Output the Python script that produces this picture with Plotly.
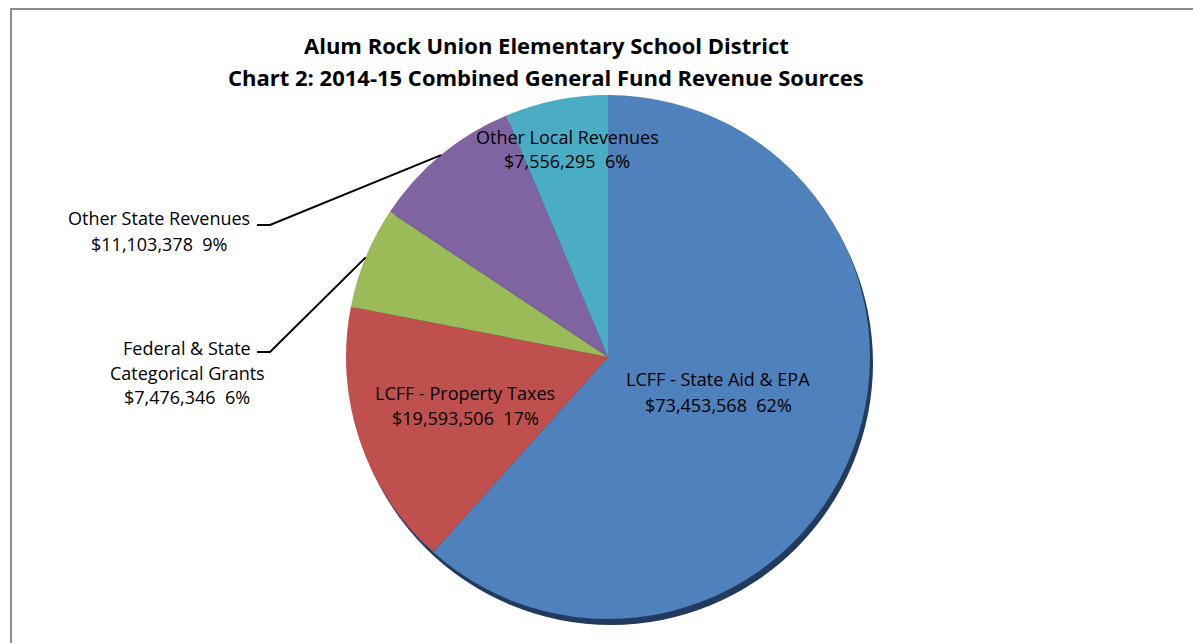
import math
import plotly.graph_objects as go

# ---- data ----
categories = ["LCFF - State Aid & EPA", "LCFF - Property Taxes",
              "Federal & State Categorical Grants", "Other State Revenues",
              "Other Local Revenues"]
values = [73453568, 19593506, 7476346, 11103378, 7556295]
percent_labels = ["62%", "17%", "6%", "9%", "6%"]
colors = ["#4F81BD", "#C0504D", "#9BBB59", "#8064A2", "#4BACC6"]
title_lines = ["Alum Rock Union Elementary School District",
               "Chart 2: 2014-15 Combined General Fund Revenue Sources"]

W, H = 1193, 643
CX, CY, R = 608, 357, 262  # pie centre / radius in pixels


def px(x):
    return x / W


def py(y):
    return 1 - y / H


fig = go.Figure()
fig.add_trace(go.Pie(
    labels=categories, values=values, sort=False, direction="clockwise",
    rotation=0, textinfo="none", hoverinfo="label+value+percent",
    marker=dict(colors=colors, line=dict(width=0)),
    domain=dict(x=[px(CX - R), px(CX + R)], y=[py(CY + R), py(CY - R)]),
    showlegend=False,
))

font = "'Open Sans', Lato, sans-serif"
annotations = []


def add_line(text, x, y, size, bold=False):
    annotations.append(dict(
        x=px(x), y=py(y), xref="paper", yref="paper",
        text=("<b>" + text + "</b>") if bold else text,
        showarrow=False, font=dict(family=font, size=size, color="black"),
        xanchor="center", yanchor="middle"))


# title
add_line(title_lines[0], 546, 45, 22, bold=True)
add_line(title_lines[1], 546, 77, 22, bold=True)


def money(v):
    return "${:,.0f}".format(v)


label_lines = {
    0: [categories[0]],
    1: [categories[1]],
    2: ["Federal & State", "Categorical Grants"],
    3: [categories[3]],
    4: [categories[4]],
}
label_anchor = {  # (centre x, first line y, line step) in pixels
    0: (718, 379, 25.5),
    1: (465, 393, 25),
    2: (187, 348, 24.5),
    3: (159, 218, 26),
    4: (567, 137, 24.5),
}
for i in range(len(values)):
    x, y0, step = label_anchor[i]
    lines = label_lines[i] + [money(values[i]) + "\u00a0\u00a0" + percent_labels[i]]
    for k, t in enumerate(lines):
        add_line(t, x, y0 + k * step, 18)

shapes = []
# shadow under the pie
shapes.append(dict(type="circle", xref="paper", yref="paper", layer="below",
                   x0=px(CX - R + 3), x1=px(CX + R + 3),
                   y0=py(CY + R + 6), y1=py(CY - R + 6),
                   fillcolor="#223A5E", line=dict(width=0)))

# leader lines from slice mid-angle
total = sum(values)
cum = 0
mids = []
for v in values:
    mids.append((cum + v / 2) / total * 2 * math.pi)
    cum += v

leader_starts = {2: (257, 352), 3: (257, 225)}
for i, (sx, sy) in leader_starts.items():
    a = mids[i]
    ex = CX + R * math.sin(a)
    ey = CY - R * math.cos(a)
    path = "M {} {} L {} {} L {} {}".format(px(sx), py(sy), px(sx + 13), py(sy), px(ex), py(ey))
    shapes.append(dict(type="path", xref="paper", yref="paper", path=path,
                       line=dict(color="black", width=2)))

# chart border (right/bottom edges cropped)
shapes.append(dict(type="rect", xref="paper", yref="paper",
                   x0=px(11), x1=px(1210), y0=py(660), y1=py(9),
                   line=dict(color="#8C8C8C", width=2), layer="above"))

fig.update_layout(
    width=W, height=H, margin=dict(l=0, r=0, t=0, b=0),
    paper_bgcolor="white", plot_bgcolor="white",
    annotations=annotations, shapes=shapes,
)
fig.write_html("out.html")
